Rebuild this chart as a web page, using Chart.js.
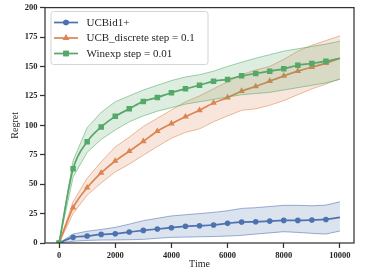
<!DOCTYPE html>
<html>
<head>
<meta charset="utf-8">
<script src="https://cdn.jsdelivr.net/npm/chart.js@4.4.1/dist/chart.umd.min.js"></script>
<style>
    html, body { margin: 0; padding: 0; background: #fff; }
</style>
</head>
<body>
<canvas id="chart" width="365" height="274"></canvas>
<script>
// data
const times = [0, 500, 1000, 1500, 2000, 2500, 3000, 3500, 4000, 4500, 5000,
    5500, 6000, 6500, 7000, 7500, 8000, 8500, 9000, 9500, 10000]

const ucbidMean = [0, 4.8, 5.9, 7.3, 7.9, 9.3, 10.7, 11.9, 13, 14.2, 14.7,
    15.3, 16.7, 17.8, 18, 18.6, 19.2, 19.2, 19.5, 20, 21.8]
const ucbidUpper = [0, 7.6, 10, 11.5, 13.3, 16, 19, 21, 23, 24, 25,
    26, 27.4, 29.4, 30, 31, 32, 32, 31.6, 32.2, 35]
const ucbidLower = [0, 1.5, 2.2, 2.5, 2.6, 2.8, 3.1, 4, 4.8, 5, 5.3,
    5.5, 5.9, 6.5, 7.6, 8.6, 9.6, 9, 8.2, 7.6, 10.2]

const ucbDiscMean = [0, 30, 47, 59.6, 69.7, 78, 86.4, 95, 101.4, 107.3, 112.8,
    119, 123.5, 129, 133, 137.5, 142, 146, 149.4, 152.8, 157]
const ucbDiscUpper = [0, 35, 55, 69, 81.6, 90, 99, 106, 113, 120, 125,
    131, 137, 143, 147, 150, 156, 163, 168, 172, 176]
const ucbDiscLower = [0, 25, 40.7, 51, 60.4, 67, 74.6, 82, 89, 94, 97,
    103, 108, 112.7, 114, 117, 121, 126, 131, 135, 139.6]

const winexpMean = [0, 63, 86, 98.6, 107.6, 114, 120.3, 123.7, 127.7, 131, 134,
    137.5, 139, 142, 144, 146, 148, 151, 152.5, 154.5, 157]
const winexpUpper = [0, 70, 98, 111, 120, 125, 130, 134, 138, 141, 143,
    146, 150, 153.6, 157, 160, 163, 165, 167, 169, 171.5]
const winexpLower = [0, 56, 77, 88, 96, 103, 108, 112, 115, 118, 120,
    122, 124, 126, 127, 128, 130, 132, 134, 136, 139]

const xTicks = [0, 2000, 4000, 6000, 8000, 10000]
const yTicks = [0, 25, 50, 75, 100, 125, 150, 175, 200]
const labels = ["UCBid1+", "UCB_discrete step = 0.1", "Winexp step = 0.01"]

// seaborn "deep" palette
const colors = {
    blue: [76, 114, 176],
    orange: [221, 132, 82],
    green: [85, 168, 104],
}
const rgba = (c, a) => `rgba(${c[0]}, ${c[1]}, ${c[2]}, ${a})`
const axisColor = "#333333"
const serif = "'Liberation Serif', 'DejaVu Serif', serif"

const series = [
    { label: labels[0], color: colors.blue, style: "circle", radius: 2.8,
      mean: ucbidMean, upper: ucbidUpper, lower: ucbidLower },
    { label: labels[1], color: colors.orange, style: "triangle", radius: 3.8,
      mean: ucbDiscMean, upper: ucbDiscUpper, lower: ucbDiscLower },
    { label: labels[2], color: colors.green, style: "rect", radius: 3.9,
      mean: winexpMean, upper: winexpUpper, lower: winexpLower },
]

const toPoints = (ys) => times.map((t, i) => ({ x: t, y: ys[i] }))
const lastIndex = times.length - 1

// first series drawn at the bottom -> highest order
const datasets = []
series.forEach((s, k) => {
    const base = (series.length - k) * 3
    datasets.push({
        data: toPoints(s.upper),
        borderColor: rgba(s.color, 0.7),
        borderWidth: 0.8,
        backgroundColor: rgba(s.color, 0.2),
        pointRadius: 0,
        fill: "+1",
        order: base + 2,
    })
    datasets.push({
        data: toPoints(s.lower),
        borderColor: rgba(s.color, 0.7),
        borderWidth: 0.8,
        pointRadius: 0,
        fill: false,
        order: base + 1,
    })
    datasets.push({
        label: s.label,
        data: toPoints(s.mean),
        borderColor: rgba(s.color, 1),
        borderWidth: 1.7,
        backgroundColor: rgba(s.color, 1),
        pointStyle: s.style,
        pointRadius: (ctx) => (ctx.dataIndex === lastIndex ? 0 : s.radius),
        pointBorderWidth: 0,
        fill: false,
        cubicInterpolationMode: "monotone",
        order: base,
    })
})

// box round the axes
const framePlugin = {
    id: "frame",
    afterDatasetsDraw(chart) {
        const { ctx, chartArea: a } = chart
        ctx.save()
        ctx.strokeStyle = axisColor
        ctx.lineWidth = 1.25
        ctx.strokeRect(a.left, a.top, a.right - a.left, a.bottom - a.top)
        ctx.restore()
    },
}

// legend inside the top left corner
const legendPlugin = {
    id: "insideLegend",
    afterDraw(chart) {
        const { ctx } = chart
        ctx.save()
        const x = 51, y = 11.5, w = 157, h = 53, r = 2.5
        ctx.beginPath()
        ctx.roundRect(x, y, w, h, r)
        ctx.fillStyle = "rgba(255, 255, 255, 0.85)"
        ctx.fill()
        ctx.strokeStyle = "#d4d4d4"
        ctx.lineWidth = 1
        ctx.stroke()

        series.forEach((s, i) => {
            const rowY = 22.5 + i * 15.5
            ctx.beginPath()
            ctx.moveTo(54, rowY)
            ctx.lineTo(78, rowY)
            ctx.strokeStyle = rgba(s.color, 1)
            ctx.lineWidth = 1.7
            ctx.stroke()
            ctx.fillStyle = rgba(s.color, 1)
            Chart.helpers.drawPoint(ctx, {
                pointStyle: s.style, radius: s.radius, rotation: 0, borderWidth: 0,
            }, 66, rowY)
            ctx.fill()
            ctx.fillStyle = "#262626"
            ctx.font = `11px ${serif}`
            ctx.textBaseline = "middle"
            ctx.textAlign = "left"
            ctx.fillText(s.label, 86.5, rowY + 0.5)
        })
        ctx.restore()
    },
}

const tickFont = { family: serif, size: 8.5, weight: "bold" }

new Chart(document.getElementById("chart"), {
    type: "line",
    data: { datasets },
    options: {
        responsive: false,
        animation: false,
        events: [],
        layout: { padding: { left: 0, right: 11, top: 7, bottom: 0 } },
        plugins: {
            legend: { display: false },
            tooltip: { enabled: false },
        },
        scales: {
            x: {
                type: "linear",
                min: -500,
                max: 10500,
                afterBuildTicks: (scale) => { scale.ticks = xTicks.map((v) => ({ value: v })) },
                afterFit: (scale) => { scale.height = 31 },
                ticks: {
                    font: tickFont, color: "#262626", padding: 3, maxRotation: 0, autoSkip: false,
                    callback: (v) => String(v),
                },
                grid: {
                    display: true, drawOnChartArea: false, drawTicks: true,
                    tickLength: 5, tickWidth: 1.25, tickColor: axisColor,
                },
                border: { display: false },
                title: {
                    display: true, text: "Time", color: "#262626",
                    font: { family: serif, size: 10 }, padding: { top: 0, bottom: 3.5 },
                },
            },
            y: {
                min: 0,
                max: 200,
                afterBuildTicks: (scale) => { scale.ticks = yTicks.map((v) => ({ value: v })) },
                afterFit: (scale) => { scale.width = 45 },
                ticks: { font: tickFont, color: "#262626", padding: 2.5, callback: (v) => String(v) },
                grid: {
                    display: true, drawOnChartArea: false, drawTicks: true,
                    tickLength: 5, tickWidth: 1.25, tickColor: axisColor,
                },
                border: { display: false },
                title: {
                    display: true, text: "Regret", color: "#262626",
                    font: { family: serif, size: 10 }, padding: { top: 9, bottom: 0 },
                },
            },
        },
    },
    plugins: [framePlugin, legendPlugin],
})
</script>
</body>
</html>
